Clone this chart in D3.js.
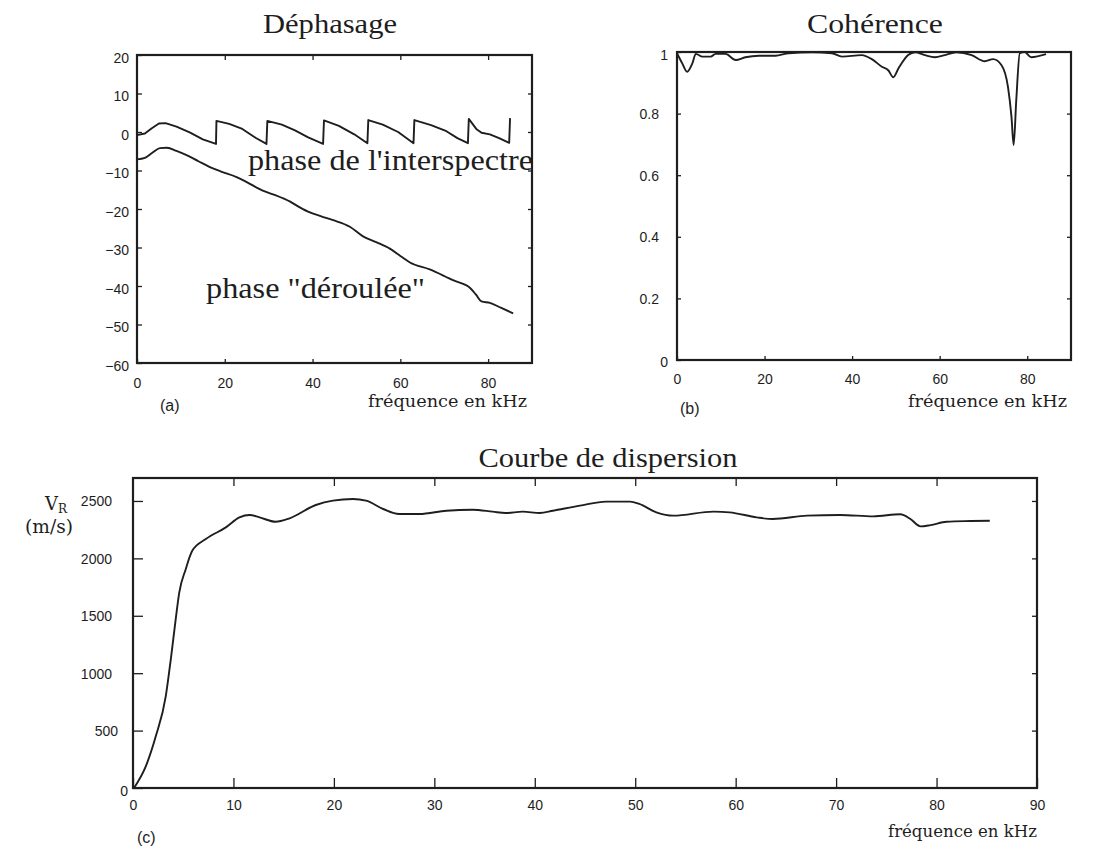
<!DOCTYPE html>
<html>
<head>
<meta charset="utf-8">
<script src="https://cdn.jsdelivr.net/npm/d3@7"></script>
<style>
  body { margin: 0; background: #fff; }
  svg { display: block; }
</style>
</head>
<body>
<div id="chart"></div>
<script>
// --- data ---
// (a) phase de l'interspectre (wrapped, rad) and phase "déroulée" (unwrapped, rad)
const wrappedFreq  = [0, 1.8, 3.3, 5.0, 6.5, 9, 12, 15, 18.0, 18.1, 21, 24, 27, 29.5, 29.7, 33, 36, 39, 42.4, 42.6, 46, 49.5, 52.5, 52.7, 56, 59.5, 63.0, 63.2, 67, 70.5, 73, 75.4, 75.6, 77.3, 78.5, 80.4, 82.5, 84.8, 85.0];
const wrappedPhase = [-0.8, -0.4, 0.9, 2.2, 2.3, 1.4, -0.1, -1.9, -3.1, 2.9, 2.1, 0.8, -1.5, -3.1, 2.9, 1.9, 0.4, -1.4, -3.1, 3.0, 1.6, -0.6, -2.9, 3.1, 1.9, 0.0, -2.9, 3.1, 1.8, 0.2, -1.6, -2.9, 3.4, 0.8, -0.2, -0.6, -1.6, -2.8, 3.6];

const unwrappedFreq  = [0, 1.8, 3.5, 5.2, 6.8, 9, 11.3, 14, 16.6, 19, 22.7, 25, 28.8, 31.5, 34.9, 37, 39.4, 42, 44.7, 48.5, 51.5, 54.5, 57.6, 60, 62.2, 66.7, 70, 72, 75.9, 77.2, 78.5, 80.4, 83, 85.7];
const unwrappedPhase = [-7.1, -6.7, -5.4, -4.2, -4.1, -4.9, -6.0, -7.6, -9.1, -10.2, -11.7, -13.0, -15.3, -16.4, -18.1, -19.5, -20.9, -21.9, -22.9, -24.6, -27.1, -28.6, -30.3, -32.2, -33.9, -35.7, -37.4, -38.5, -40.5, -42.2, -44.0, -44.4, -45.7, -47.1];

// (b) cohérence
const cohFreq = [0, 1.2, 2.3, 3.5, 4.3, 5.8, 7.7, 8.8, 11.1, 13.4, 15.6, 18.7, 22.5, 25.5, 30.8, 35.4, 37.7, 42.2, 44.5, 46.8, 48.3, 49.4, 50.6, 52.8, 54.4, 56.6, 58.9, 61.2, 63.8, 67.3, 70.3, 72.2, 74.1, 75.6, 76.4, 76.9, 77.5, 78.3, 79.4, 80.9, 84.3];
const cohValue = [0.996, 0.963, 0.936, 0.963, 0.994, 0.985, 0.985, 0.994, 0.994, 0.974, 0.983, 0.988, 0.988, 0.996, 0.999, 0.996, 0.985, 0.99, 0.977, 0.952, 0.94, 0.918, 0.947, 0.99, 0.999, 0.99, 0.983, 0.99, 0.999, 0.99, 0.97, 0.977, 0.958, 0.887, 0.79, 0.698, 0.844, 0.996, 1.0, 0.983, 0.993];

// (c) courbe de dispersion, V_R in m/s
const dispFreq = [0.1, 1.26, 2.26, 3.26, 3.76, 4.25, 4.6, 5.25, 5.9, 7.25, 9.24, 10.6, 11.6, 12.6, 14.2, 15.6, 18.2, 19.9, 21.9, 23.2, 24.9, 26.5, 28.5, 31.2, 33.8, 35.8, 37.1, 38.8, 40.5, 41.8, 44.5, 47.1, 49.5, 50.4, 52.1, 53.8, 57.8, 59.4, 62.1, 63.7, 67.1, 70.4, 73.7, 76.4, 77.4, 78.4, 79.4, 81, 83.4, 85.3];
const dispVel  = [0, 186, 448, 798, 1119, 1469, 1700, 1906, 2066, 2168, 2270, 2357, 2378, 2357, 2319, 2349, 2465, 2503, 2517, 2503, 2430, 2386, 2386, 2415, 2424, 2407, 2395, 2407, 2395, 2415, 2459, 2494, 2494, 2474, 2401, 2372, 2407, 2401, 2357, 2343, 2372, 2378, 2366, 2384, 2343, 2279, 2290, 2319, 2325, 2328];

// tick values
const ticksA_x = [0, 20, 40, 60, 80];
const ticksA_y = [-60, -50, -40, -30, -20, -10, 0, 10, 20];
const ticksB_x = [0, 20, 40, 60, 80];
const ticksB_y = [0, 0.2, 0.4, 0.6, 0.8, 1];
const ticksC_x = [0, 10, 20, 30, 40, 50, 60, 70, 80, 90];
const ticksC_y = [0, 500, 1000, 1500, 2000, 2500];

const ink = "#1e1e1e";
const sansFont = "'Liberation Sans', Arial, sans-serif";
const serifFont = "'Liberation Serif', 'Times New Roman', serif";
const schoolFont = "'DejaVu Serif', serif";

const svg = d3.select("#chart")
  .append("svg")
  .attr("width", 1104)
  .attr("height", 849);

svg.append("rect").attr("width", 1104).attr("height", 849).attr("fill", "#fff");

// draws a framed panel with inward ticks, returns the scales
function panel(opt) {
  const x = d3.scaleLinear().domain(opt.xDomain).range([opt.left, opt.right]);
  const y = d3.scaleLinear().domain(opt.yDomain).range([opt.bottom, opt.top]);
  const g = svg.append("g");

  // bottom axis
  g.append("g")
    .attr("transform", `translate(0,${opt.bottom})`)
    .call(d3.axisBottom(x).tickValues(opt.xTicks).tickSize(-opt.tickB).tickPadding(opt.xPad).tickFormat(d3.format("d")));
  // top ticks
  if (opt.tickT > 0) {
    g.append("g")
      .attr("transform", `translate(0,${opt.top})`)
      .call(d3.axisTop(x).tickValues(opt.xTicks.filter(v => v > opt.xDomain[0] && v < opt.xDomain[1])).tickSize(-opt.tickT).tickFormat(""));
  }
  // left axis
  const ly = g.append("g")
    .attr("transform", `translate(${opt.left},0)`)
    .call(d3.axisLeft(y).tickValues(opt.yTicks).tickSize(-opt.tickL).tickPadding(6).tickFormat(opt.yFormat));
  // right ticks
  g.append("g")
    .attr("transform", `translate(${opt.right},0)`)
    .call(d3.axisRight(y).tickValues(opt.yTicks.filter(v => v > opt.yDomain[0] && v < opt.yDomain[1])).tickSize(-opt.tickR).tickFormat(""));

  g.selectAll(".domain").remove();
  g.selectAll(".tick line").attr("stroke", ink).attr("stroke-width", 1.3);
  g.selectAll(".tick text")
    .attr("fill", ink)
    .style("font-family", sansFont)
    .style("font-size", "14px");

  // y labels: old plotter alignment, shorter labels sit closer to the axis
  ly.selectAll(".tick text")
    .attr("x", d => opt.yLabelX(opt.yFormat(d)) - opt.left)
    .attr("dy", d => opt.yDy(d));

  // frame
  g.append("rect")
    .attr("x", opt.left).attr("y", opt.top)
    .attr("width", opt.right - opt.left).attr("height", opt.bottom - opt.top)
    .attr("fill", "none").attr("stroke", ink).attr("stroke-width", 2.2);

  return { x, y, g };
}

function drawLine(p, xs, ys, curve) {
  const pts = xs.map((f, i) => [f, ys[i]]);
  p.g.append("path")
    .datum(pts)
    .attr("fill", "none")
    .attr("stroke", ink)
    .attr("stroke-width", 1.9)
    .attr("stroke-linejoin", "round")
    .attr("d", d3.line().x(d => p.x(d[0])).y(d => p.y(d[1])).curve(curve));
}

function label(txt, x, y, font, size, len, anchor) {
  const t = svg.append("text")
    .attr("x", x).attr("y", y)
    .attr("fill", ink)
    .style("font-family", font)
    .style("font-size", size + "px")
    .attr("text-anchor", anchor || "start")
    .text(txt);
  if (len) t.attr("textLength", len).attr("lengthAdjust", "spacingAndGlyphs");
  return t;
}

// ---------- (a) Déphasage ----------
const pA = panel({
  left: 137, top: 55, right: 532, bottom: 363,
  xDomain: [0, 90], yDomain: [-60, 20],
  xTicks: ticksA_x, yTicks: ticksA_y,
  tickB: 4, tickT: 5, tickL: 5, tickR: 4, xPad: 15,
  yFormat: d3.format("d"),
  yLabelX: s => 129,
  yDy: d => "0.5em"
});
drawLine(pA, wrappedFreq, wrappedPhase, d3.curveLinear);
drawLine(pA, unwrappedFreq, unwrappedPhase, d3.curveMonotoneX);

label("Déphasage", 330, 33, serifFont, 28, 134, "middle");
label("phase de l'interspectre", 248, 170, serifFont, 30, 285);
label("phase \"déroulée\"", 206, 298, serifFont, 30, 219);
label("fréquence en kHz", 368, 407, schoolFont, 17, 159);
label("(a)", 160, 411, sansFont, 16);

// ---------- (b) Cohérence ----------
const pB = panel({
  left: 677, top: 52, right: 1071, bottom: 360,
  xDomain: [0, 90], yDomain: [0, 1],
  xTicks: ticksB_x, yTicks: ticksB_y,
  tickB: 4, tickT: 0, tickL: 4, tickR: 4, xPad: 14,
  yFormat: d => d === 0 || d === 1 ? String(d) : d3.format(".1f")(d),
  yLabelX: s => s.length === 1 ? 668 : 659,
  yDy: d => d === 0 ? "0.45em" : (d === 1 ? "0.55em" : "0.35em")
});
drawLine(pB, cohFreq, cohValue, d3.curveMonotoneX);

label("Cohérence", 875, 33, serifFont, 28, 136, "middle");
label("fréquence en kHz", 908, 407, schoolFont, 17, 159);
label("(b)", 680, 414, sansFont, 16);

// ---------- (c) Courbe de dispersion ----------
const pC = panel({
  left: 133, top: 478, right: 1037, bottom: 788,
  xDomain: [0, 90], yDomain: [0, 2700],
  xTicks: ticksC_x, yTicks: ticksC_y,
  tickB: 10, tickT: 8, tickL: 10, tickR: 5, xPad: 12,
  yFormat: d3.format("d"),
  yLabelX: s => s.length === 4 ? 112 : (s.length === 3 ? 118 : 128),
  yDy: d => d === 0 ? "0.55em" : "0.35em"
});
drawLine(pC, dispFreq, dispVel, d3.curveMonotoneX);

label("Courbe de dispersion", 608, 467, serifFont, 28, 259, "middle");
label("fréquence en kHz", 888, 837, schoolFont, 17, 149);
label("(c)", 137, 843, sansFont, 16);

// V_R (m/s)
const vr = svg.append("text")
  .attr("x", 45).attr("y", 510)
  .attr("fill", ink)
  .style("font-family", schoolFont)
  .style("font-size", "18px");
vr.append("tspan").text("V");
vr.append("tspan").attr("dy", 3).style("font-size", "12px").text("R");
label("(m/s)", 25, 533, schoolFont, 18, 48);
</script>
</body>
</html>
